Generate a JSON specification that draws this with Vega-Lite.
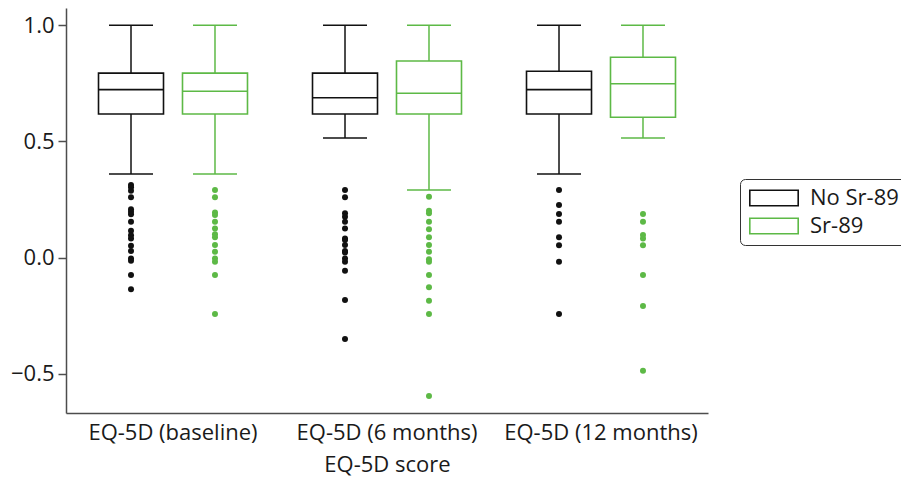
{
  "$schema": "https://vega.github.io/schema/vega-lite/v6.json",
  "autosize": "none",
  "width": 642,
  "height": 405,
  "padding": {"left": 66, "top": 8, "right": 193, "bottom": 64},
  "config": {
    "view": {"stroke": null},
    "font": "Open Sans",
    "axis": {"labelFont": "Open Sans", "titleFont": "Open Sans", "labelColor": "#1a1a1a", "titleColor": "#1a1a1a", "domainColor": "#4d4d4d", "tickColor": "#4d4d4d", "grid": false}
  },
  "datasets": {
    "stats": [
      {"group": "EQ-5D (baseline)", "series": "No Sr-89", "lower": 0.36, "q1": 0.618, "median": 0.723, "q3": 0.794, "upper": 1.0},
      {"group": "EQ-5D (baseline)", "series": "Sr-89", "lower": 0.36, "q1": 0.618, "median": 0.716, "q3": 0.794, "upper": 1.0},
      {"group": "EQ-5D (6 months)", "series": "No Sr-89", "lower": 0.515, "q1": 0.618, "median": 0.688, "q3": 0.794, "upper": 1.0},
      {"group": "EQ-5D (6 months)", "series": "Sr-89", "lower": 0.291, "q1": 0.618, "median": 0.707, "q3": 0.846, "upper": 1.0},
      {"group": "EQ-5D (12 months)", "series": "No Sr-89", "lower": 0.36, "q1": 0.618, "median": 0.723, "q3": 0.802, "upper": 1.0},
      {"group": "EQ-5D (12 months)", "series": "Sr-89", "lower": 0.515, "q1": 0.604, "median": 0.748, "q3": 0.862, "upper": 1.0}
    ],
    "outliers": [
      {"group": "EQ-5D (baseline)", "series": "No Sr-89", "value": 0.313},
      {"group": "EQ-5D (baseline)", "series": "No Sr-89", "value": 0.303},
      {"group": "EQ-5D (baseline)", "series": "No Sr-89", "value": 0.288},
      {"group": "EQ-5D (baseline)", "series": "No Sr-89", "value": 0.26},
      {"group": "EQ-5D (baseline)", "series": "No Sr-89", "value": 0.208},
      {"group": "EQ-5D (baseline)", "series": "No Sr-89", "value": 0.198},
      {"group": "EQ-5D (baseline)", "series": "No Sr-89", "value": 0.187},
      {"group": "EQ-5D (baseline)", "series": "No Sr-89", "value": 0.155},
      {"group": "EQ-5D (baseline)", "series": "No Sr-89", "value": 0.116},
      {"group": "EQ-5D (baseline)", "series": "No Sr-89", "value": 0.097},
      {"group": "EQ-5D (baseline)", "series": "No Sr-89", "value": 0.083},
      {"group": "EQ-5D (baseline)", "series": "No Sr-89", "value": 0.051},
      {"group": "EQ-5D (baseline)", "series": "No Sr-89", "value": 0.029},
      {"group": "EQ-5D (baseline)", "series": "No Sr-89", "value": -0.003},
      {"group": "EQ-5D (baseline)", "series": "No Sr-89", "value": -0.013},
      {"group": "EQ-5D (baseline)", "series": "No Sr-89", "value": -0.074},
      {"group": "EQ-5D (baseline)", "series": "No Sr-89", "value": -0.136},
      {"group": "EQ-5D (baseline)", "series": "Sr-89", "value": 0.291},
      {"group": "EQ-5D (baseline)", "series": "Sr-89", "value": 0.26},
      {"group": "EQ-5D (baseline)", "series": "Sr-89", "value": 0.194},
      {"group": "EQ-5D (baseline)", "series": "Sr-89", "value": 0.184},
      {"group": "EQ-5D (baseline)", "series": "Sr-89", "value": 0.155},
      {"group": "EQ-5D (baseline)", "series": "Sr-89", "value": 0.126},
      {"group": "EQ-5D (baseline)", "series": "Sr-89", "value": 0.101},
      {"group": "EQ-5D (baseline)", "series": "Sr-89", "value": 0.088},
      {"group": "EQ-5D (baseline)", "series": "Sr-89", "value": 0.055},
      {"group": "EQ-5D (baseline)", "series": "Sr-89", "value": 0.026},
      {"group": "EQ-5D (baseline)", "series": "Sr-89", "value": -0.003},
      {"group": "EQ-5D (baseline)", "series": "Sr-89", "value": -0.017},
      {"group": "EQ-5D (baseline)", "series": "Sr-89", "value": -0.074},
      {"group": "EQ-5D (baseline)", "series": "Sr-89", "value": -0.242},
      {"group": "EQ-5D (6 months)", "series": "No Sr-89", "value": 0.291},
      {"group": "EQ-5D (6 months)", "series": "No Sr-89", "value": 0.26},
      {"group": "EQ-5D (6 months)", "series": "No Sr-89", "value": 0.191},
      {"group": "EQ-5D (6 months)", "series": "No Sr-89", "value": 0.176},
      {"group": "EQ-5D (6 months)", "series": "No Sr-89", "value": 0.155},
      {"group": "EQ-5D (6 months)", "series": "No Sr-89", "value": 0.126},
      {"group": "EQ-5D (6 months)", "series": "No Sr-89", "value": 0.083},
      {"group": "EQ-5D (6 months)", "series": "No Sr-89", "value": 0.076},
      {"group": "EQ-5D (6 months)", "series": "No Sr-89", "value": 0.055},
      {"group": "EQ-5D (6 months)", "series": "No Sr-89", "value": 0.029},
      {"group": "EQ-5D (6 months)", "series": "No Sr-89", "value": 0.022},
      {"group": "EQ-5D (6 months)", "series": "No Sr-89", "value": -0.003},
      {"group": "EQ-5D (6 months)", "series": "No Sr-89", "value": -0.017},
      {"group": "EQ-5D (6 months)", "series": "No Sr-89", "value": -0.056},
      {"group": "EQ-5D (6 months)", "series": "No Sr-89", "value": -0.182},
      {"group": "EQ-5D (6 months)", "series": "No Sr-89", "value": -0.35},
      {"group": "EQ-5D (6 months)", "series": "Sr-89", "value": 0.262},
      {"group": "EQ-5D (6 months)", "series": "Sr-89", "value": 0.202},
      {"group": "EQ-5D (6 months)", "series": "Sr-89", "value": 0.191},
      {"group": "EQ-5D (6 months)", "series": "Sr-89", "value": 0.155},
      {"group": "EQ-5D (6 months)", "series": "Sr-89", "value": 0.122},
      {"group": "EQ-5D (6 months)", "series": "Sr-89", "value": 0.088},
      {"group": "EQ-5D (6 months)", "series": "Sr-89", "value": 0.055},
      {"group": "EQ-5D (6 months)", "series": "Sr-89", "value": 0.026},
      {"group": "EQ-5D (6 months)", "series": "Sr-89", "value": -0.007},
      {"group": "EQ-5D (6 months)", "series": "Sr-89", "value": -0.017},
      {"group": "EQ-5D (6 months)", "series": "Sr-89", "value": -0.074},
      {"group": "EQ-5D (6 months)", "series": "Sr-89", "value": -0.127},
      {"group": "EQ-5D (6 months)", "series": "Sr-89", "value": -0.185},
      {"group": "EQ-5D (6 months)", "series": "Sr-89", "value": -0.242},
      {"group": "EQ-5D (6 months)", "series": "Sr-89", "value": -0.595},
      {"group": "EQ-5D (12 months)", "series": "No Sr-89", "value": 0.291},
      {"group": "EQ-5D (12 months)", "series": "No Sr-89", "value": 0.227},
      {"group": "EQ-5D (12 months)", "series": "No Sr-89", "value": 0.188},
      {"group": "EQ-5D (12 months)", "series": "No Sr-89", "value": 0.155},
      {"group": "EQ-5D (12 months)", "series": "No Sr-89", "value": 0.088},
      {"group": "EQ-5D (12 months)", "series": "No Sr-89", "value": 0.053},
      {"group": "EQ-5D (12 months)", "series": "No Sr-89", "value": -0.017},
      {"group": "EQ-5D (12 months)", "series": "No Sr-89", "value": -0.242},
      {"group": "EQ-5D (12 months)", "series": "Sr-89", "value": 0.188},
      {"group": "EQ-5D (12 months)", "series": "Sr-89", "value": 0.155},
      {"group": "EQ-5D (12 months)", "series": "Sr-89", "value": 0.098},
      {"group": "EQ-5D (12 months)", "series": "Sr-89", "value": 0.083},
      {"group": "EQ-5D (12 months)", "series": "Sr-89", "value": 0.053},
      {"group": "EQ-5D (12 months)", "series": "Sr-89", "value": -0.074},
      {"group": "EQ-5D (12 months)", "series": "Sr-89", "value": -0.208},
      {"group": "EQ-5D (12 months)", "series": "Sr-89", "value": -0.486}
    ]
  },
  "encoding": {
    "x": {
      "field": "group", "type": "nominal",
      "sort": ["EQ-5D (baseline)", "EQ-5D (6 months)", "EQ-5D (12 months)"],
      "scale": {"paddingInner": 0, "paddingOuter": 0},
      "axis": {"title": "EQ-5D score", "labelAngle": 0, "ticks": false, "labelLimit": 0, "labelFontSize": 22, "titleFontSize": 22, "titleFontWeight": "normal", "labelPadding": 9, "titlePadding": 11, "domainWidth": 1.5}
    },
    "xOffset": {
      "field": "series", "type": "nominal", "sort": ["No Sr-89", "Sr-89"],
      "scale": {"paddingInner": 0, "paddingOuter": 0.274}
    }
  },
  "layer": [
    {
      "data": {"name": "stats"},
      "mark": {"type": "bar", "size": 65, "fill": "white", "strokeWidth": 1.6, "opacity": 1},
      "encoding": {
        "y": {"field": "q1", "type": "quantitative",
          "scale": {"domain": [-0.668, 1.074], "nice": false, "zero": false},
          "axis": {"title": null, "values": [-0.5, 0, 0.5, 1.0], "format": ".1f", "labelFontSize": 22, "tickSize": 8, "labelPadding": 4, "domainWidth": 1.5, "tickWidth": 1.5}},
        "y2": {"field": "q3"},
        "stroke": {"field": "series", "type": "nominal",
          "scale": {"domain": ["No Sr-89", "Sr-89"], "range": ["#111111", "#5db946"]},
          "legend": {"title": null, "orient": "none", "legendX": 674, "legendY": 171,
            "symbolType": "M-1,-0.85H4V0.85H-1ZM-0.84,-0.69V0.69H3.84V-0.69Z", "symbolSize": 400, "symbolStrokeWidth": 0,
            "labelFontSize": 22, "labelFont": "Open Sans", "labelColor": "#1a1a1a", "labelOffset": 40, "rowPadding": 6,
            "padding": 8, "strokeColor": "#333333", "cornerRadius": 5, "fillColor": "white"}}
      }
    },
    {
      "data": {"name": "stats"},
      "mark": {"type": "rule", "strokeWidth": 1.5},
      "encoding": {
        "y": {"field": "lower", "type": "quantitative"},
        "y2": {"field": "q1"},
        "stroke": {"field": "series", "type": "nominal"}
      }
    },
    {
      "data": {"name": "stats"},
      "mark": {"type": "rule", "strokeWidth": 1.5},
      "encoding": {
        "y": {"field": "q3", "type": "quantitative"},
        "y2": {"field": "upper"},
        "stroke": {"field": "series", "type": "nominal"}
      }
    },
    {
      "data": {"name": "stats"},
      "mark": {"type": "tick", "size": 65, "thickness": 1.6, "opacity": 1},
      "encoding": {
        "y": {"field": "median", "type": "quantitative"},
        "fill": {"field": "series", "type": "nominal", "scale": {"domain": ["No Sr-89", "Sr-89"], "range": ["#111111", "#5db946"]}, "legend": null}
      }
    },
    {
      "data": {"name": "stats"},
      "mark": {"type": "tick", "size": 44, "thickness": 1.6, "opacity": 1},
      "encoding": {
        "y": {"field": "lower", "type": "quantitative"},
        "fill": {"field": "series", "type": "nominal", "legend": null}
      }
    },
    {
      "data": {"name": "stats"},
      "mark": {"type": "tick", "size": 44, "thickness": 1.6, "opacity": 1},
      "encoding": {
        "y": {"field": "upper", "type": "quantitative"},
        "fill": {"field": "series", "type": "nominal", "legend": null}
      }
    },
    {
      "data": {"name": "outliers"},
      "mark": {"type": "point", "filled": true, "size": 36, "opacity": 1, "strokeWidth": 0},
      "encoding": {
        "y": {"field": "value", "type": "quantitative"},
        "fill": {"field": "series", "type": "nominal", "legend": null}
      }
    }
  ]
}
